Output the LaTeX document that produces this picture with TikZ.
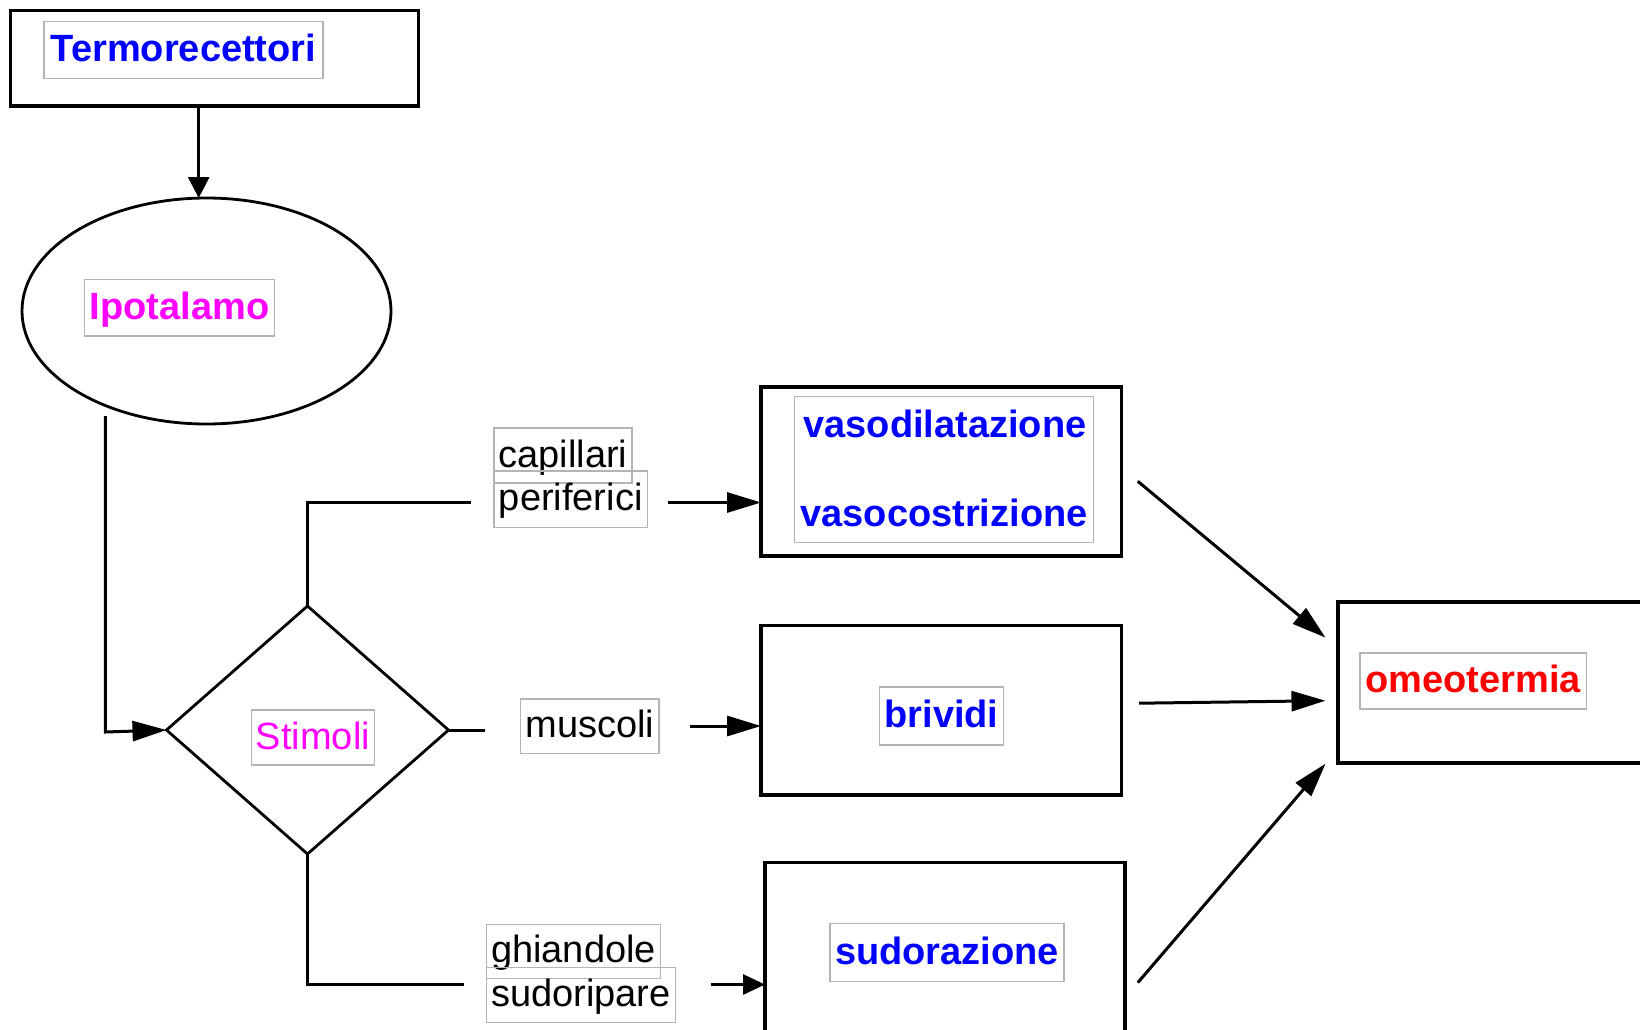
\documentclass[tikz,border=0pt]{standalone}
\usepackage{fontspec}
\setmainfont{Liberation Sans}
\usetikzlibrary{shapes.geometric,arrows.meta}
\definecolor{lblgray}{RGB}{180,180,180}
\definecolor{tblue}{RGB}{0,0,255}
\definecolor{tmag}{RGB}{255,0,255}
\definecolor{tred}{RGB}{255,0,0}
\begin{document}
\begin{tikzpicture}[x=1pt,y=-1pt,
  bigbox/.style={draw=black,line width=3.6pt,inner sep=0pt,outer sep=0pt},
  lbl/.style={draw=lblgray,line width=1.2pt,inner sep=0pt,outer sep=0pt,text height=30pt,text depth=7pt,font=\fontsize{38pt}{46pt}\selectfont},
  bluelbl/.style={lbl,text=tblue,font=\fontsize{38pt}{46pt}\selectfont\bfseries},
  plaintxt/.style={inner sep=0pt,outer sep=0pt,font=\fontsize{38pt}{46pt}\selectfont\bfseries,text=tblue},
  conn/.style={draw=black,line width=3pt},
  arr/.style={conn,-{Triangle[length=34pt,width=20pt]}},
  arrshort/.style={conn,-{Triangle[length=22pt,width=20pt]}},
  arrtop/.style={conn,-{Triangle[length=21pt,width=21pt]}}
]
\clip (0,0) rectangle (1640,1029);
\fill[white] (0,0) rectangle (1640,1029);

% big shapes
\node[bigbox,minimum width=408pt,minimum height=95.5pt] (termo) at (214.5,58.4) {};
\node[draw=black,line width=2.8pt,ellipse,inner sep=0pt,outer sep=0pt,minimum width=369pt,minimum height=226pt] (ipo) at (206.5,311) {};
\node[draw=black,line width=2.8pt,diamond,inner sep=0pt,outer sep=0pt,minimum width=282pt,minimum height=248pt] (stim) at (307.5,730) {};
\node[bigbox,minimum width=360.5pt,minimum height=169pt] (vaso) at (941.3,471.3) {};
\node[bigbox,minimum width=360.5pt,minimum height=169.5pt] (briv) at (941.3,710.3) {};
\node[bigbox,minimum width=360pt,minimum height=200pt] (sudo) at (945,962.4) {};
\node[bigbox,minimum width=360pt,minimum height=161pt] (omeo) at (1518,682.7) {};

% labels
\node[bluelbl,minimum width=279pt,minimum height=57pt] (termolbl) at (183.5,50.1) {Termorecettori};
\node[lbl,text=tmag,font=\fontsize{38pt}{46pt}\selectfont\bfseries,minimum width=190pt,minimum height=56.4pt] (ipolbl) at (179.6,307.8) {Ipotalamo};
\node[lbl,text=tmag,minimum width=123pt,minimum height=55pt] (stimlbl) at (313,737.5) {Stimoli};
\node[lbl,minimum width=138pt,minimum height=55pt] (capil) at (563,455.5) {capillari};
\node[lbl,minimum width=153.5pt,minimum height=56.5pt] (peri) at (570.7,499.2) {periferici};
\node[lbl,minimum width=138.5pt,minimum height=54.5pt] (musc) at (589.8,726.2) {muscoli};
\node[lbl,minimum width=174pt,minimum height=54.4pt] (ghia) at (573.5,951.4) {ghiandole};
\node[lbl,minimum width=189pt,minimum height=54.7pt] (sudp) at (581,994.8) {sudoripare};
\node[lbl,minimum width=299pt,minimum height=146pt] (vasolbl) at (944,469.6) {};
\node[plaintxt] (vasod) at (945,423.6) {vasodilatazione};
\node[plaintxt] (vasoc) at (944,512.5) {vasocostrizione};
\node[bluelbl,minimum width=124pt,minimum height=58pt] (brivlbl) at (941.5,716) {brividi};
\node[bluelbl,minimum width=234pt,minimum height=57.5pt] (sudolbl) at (947,952.5) {sudorazione};
\node[lbl,text=tred,font=\fontsize{38pt}{46pt}\selectfont\bfseries,minimum width=226.5pt,minimum height=56pt] (omeolbl) at (1473.3,681) {omeotermia};

% coordinates
\coordinate (xa) at (198.7,0);
\coordinate (ipostart) at (105.3,416);
\coordinate (ipocorner) at (105.3,732);
\coordinate (topend) at (471,502.5);
\coordinate (peristart) at (668,502.5);
\coordinate (muscend) at (485,728);
\coordinate (muscstart) at (690,726);
\coordinate (botend) at (464,984.5);
\coordinate (botstart) at (711,984.5);
\coordinate (o1s) at (1137.8,481.3);
\coordinate (o1e) at (1325.5,637.6);
\coordinate (o2s) at (1139,703.2);
\coordinate (o2e) at (1325.5,700.7);
\coordinate (o3s) at (1137.8,982.6);
\coordinate (o3e) at (1325.5,763.7);

% connectors
\draw[arrtop] (termo.south -| xa) -- (ipo.north -| xa);
\draw[arr] (ipostart) -- (ipocorner) -- (stim.west);
\draw[conn] (stim.north) |- (topend);
\draw[arr] (peristart) -- (vaso.west |- peristart);
\draw[conn] (stim.east) -- (stim.east -| muscend);
\draw[arr] (muscstart) -- (briv.west |- muscstart);
\draw[conn] (stim.south) |- (botend);
\draw[arrshort] (botstart) -- (sudo.west |- botstart);
\draw[arr] (o1s) -- (o1e);
\draw[arr] (o2s) -- (o2e);
\draw[arr] (o3s) -- (o3e);
\end{tikzpicture}
\end{document}
